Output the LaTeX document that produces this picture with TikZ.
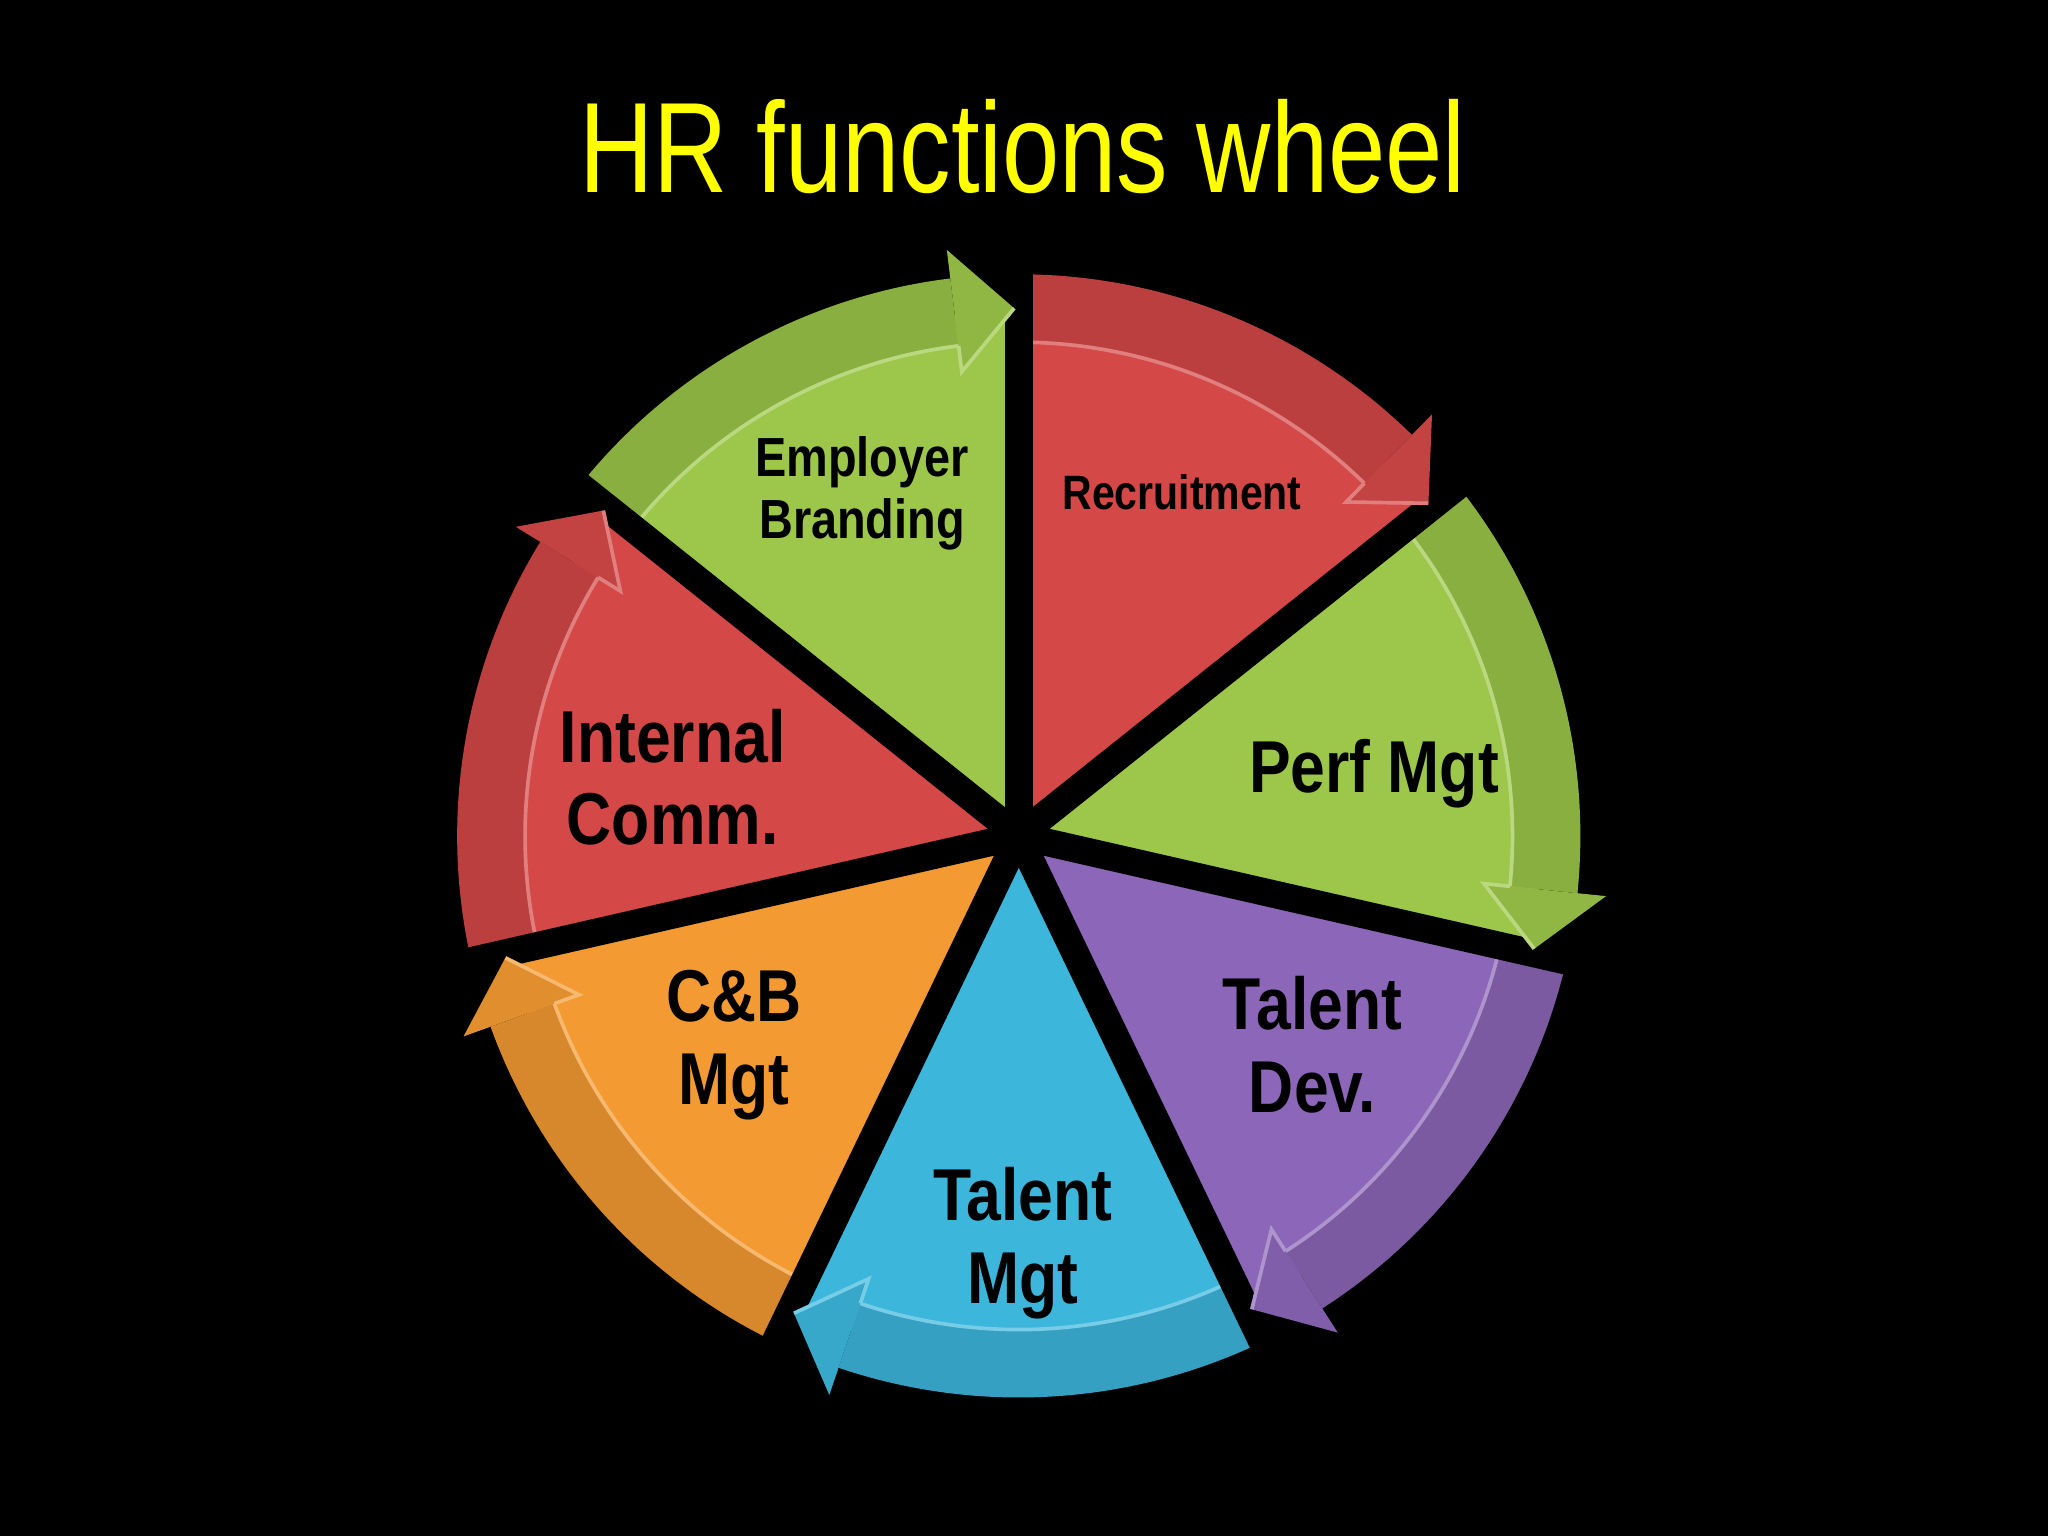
\documentclass[tikz,border=0pt]{standalone}
\usepackage{fontspec}
\usepackage{graphicx}
\setmainfont{Liberation Sans}
\definecolor{cred}{HTML}{D44848}
\definecolor{cgreen}{HTML}{9CC74A}
\definecolor{cpurple}{HTML}{8C66B8}
\definecolor{cblue}{HTML}{3DB6DC}
\definecolor{corange}{HTML}{F49A32}
\definecolor{ctitle}{HTML}{FFFF00}
\tikzset{lbl/.style={font=\bfseries, text=black, align=center, inner sep=0pt}}
\begin{document}
\begin{tikzpicture}[x=0.01cm,y=0.01cm]
\fill[black] (0,0) rectangle (1568,1176);
\useasboundingbox (0,0) rectangle (1568,1176);
\node[text=ctitle, font=\fontsize{28}{32}\selectfont] (title) at (783,1064) {\scalebox{0.8}[1]{HR functions wheel}};
\begin{scope}[shift={(780,536)}]
\foreach \a/\c in {90/cred,38.57/cgreen,-12.86/cpurple,-64.29/cblue,-115.71/corange,-167.14/cred,-218.57/cgreen}{
  \pgfmathsetmacro\b{\a-51.43}
  \pgfmathsetmacro\e{\b+7}
  \fill[\c] (0,0) -- (\a:400) arc[start angle=\a,end angle=\b,radius=400] -- cycle;
  \fill[\c!88!black] (\a:378) arc[start angle=\a,end angle=\e,radius=378] -- (\e:430) arc[start angle=\e,end angle=\a,radius=430] -- cycle;
  \draw[\c!70!white, line width=0.8pt] (\a:378) arc[start angle=\a,end angle=\e,radius=378];
}
\foreach \a in {90,38.57,-12.86,-64.29,-115.71,-167.14,-218.57}
  \draw[black, line width=6pt] (0,0) -- (\a:480);
\foreach \a/\c in {90/cred,38.57/cgreen,-12.86/cpurple,-64.29/cblue,-115.71/corange,-167.14/cred,-218.57/cgreen}{
  \pgfmathsetmacro\b{\a-51.43}
  \pgfmathsetmacro\e{\b+7}
  \fill[\c!92!black] (\e:358) -- (\b+0.5:404) -- (\e:452) -- cycle;
  \draw[\c!70!white, line width=0.8pt] (\e:378) -- (\e:358) -- (\b+0.5:404);
}
\end{scope}
\node[lbl, font=\bfseries\fontsize{10.5}{11}\selectfont] (rec) at (905,799) {\scalebox{0.85}[1]{Recruitment}};
\node[lbl, font=\bfseries\fontsize{12}{13.5}\selectfont] (emp) at (660,798) {\scalebox{0.85}[1]{Employer}\\\scalebox{0.85}[1]{Branding}};
\node[lbl, font=\bfseries\fontsize{16}{18}\selectfont] (int) at (515,581) {\scalebox{0.85}[1]{Internal}\\\scalebox{0.85}[1]{Comm.}};
\node[lbl, font=\bfseries\fontsize{16}{18}\selectfont] (cb) at (562,376) {\scalebox{0.85}[1]{C\&B}\\\scalebox{0.85}[1]{Mgt}};
\node[lbl, font=\bfseries\fontsize{16}{18}\selectfont] (tm) at (783,224) {\scalebox{0.85}[1]{Talent}\\\scalebox{0.85}[1]{Mgt}};
\node[lbl, font=\bfseries\fontsize{16}{18}\selectfont] (td) at (1005,376) {\scalebox{0.85}[1]{Talent}\\\scalebox{0.85}[1]{Dev.}};
\node[lbl, font=\bfseries\fontsize{16}{18}\selectfont] (pm) at (1052,584) {\scalebox{0.85}[1]{Perf Mgt}};
\end{tikzpicture}
\end{document}
